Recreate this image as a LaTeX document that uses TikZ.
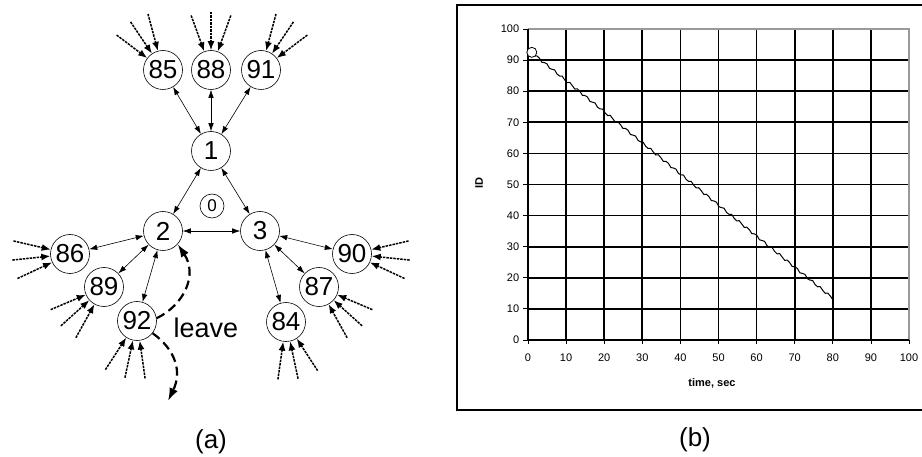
\documentclass[tikz,border=0pt]{standalone}
\usepackage{fontspec}
\setmainfont{Liberation Sans}
\usetikzlibrary{arrows.meta}
\begin{document}
\begin{tikzpicture}[x=1pt,y=1pt,
  peer/.style={circle,draw,line width=0.6pt,minimum size=39pt,inner sep=0pt,font=\fontsize{26}{26}\selectfont},
  smallpeer/.style={circle,draw,line width=0.6pt,minimum size=24pt,inner sep=0pt,font=\fontsize{17}{17}\selectfont},
  biarrow/.style={line width=0.6pt,{Latex[length=8pt,width=5.5pt]}-{Latex[length=8pt,width=5.5pt]}},
  inarrow/.style={line width=1.5pt,dash pattern=on 2.5pt off 1pt,-{Latex[length=9pt,width=7pt]}},
  leavearrow/.style={line width=2.2pt,dash pattern=on 9pt off 5pt,-{Latex[length=13pt,width=9pt]}},
  gridblack/.style={line width=1.7pt,black},
  gridgray/.style={line width=1.7pt,gray!80},
  ticklab/.style={font=\fontsize{11}{11}\selectfont},
  caption/.style={font=\fontsize{26}{26}\selectfont}]
\useasboundingbox (0,0) rectangle (922,-457);

% ---------- (a) overlay ----------
\node[peer] (n85) at (163,-70) {85};
\node[peer] (n88) at (211,-70) {88};
\node[peer] (n91) at (261,-70) {91};
\node[peer] (n1)  at (211,-151) {1};
\node[smallpeer] (n0) at (212,-206) {0};
\node[peer] (n2)  at (163,-231) {2};
\node[peer] (n3)  at (260,-231) {3};
\node[peer] (n86) at (70,-254) {86};
\node[peer] (n89) at (104,-287) {89};
\node[peer] (n92) at (137,-321) {92};
\node[peer] (n90) at (352,-254) {90};
\node[peer] (n87) at (319,-287) {87};
\node[peer] (n84) at (286,-322) {84};

\foreach \a/\b in {n1/n85,n1/n88,n1/n91,n1/n2,n1/n3,n2/n3,n2/n86,n2/n89,n2/n92,n3/n90,n3/n87,n3/n84}
  \draw[biarrow] (\a) -- (\b);

\foreach \n/\angs in {n85/{105,124,143},n88/{70,90,110},n91/{37,56,75},
                      n86/{167,186,205},n89/{203,222,241},n92/{237,258,278},
                      n90/{13,-6,-25},n87/{-23,-42,-61},n84/{-57,-78,-98}}
  \foreach \t in \angs
    \draw[inarrow] ([shift={(\t:58)}]\n.center) -- (\n.\t);

\coordinate (leaveend) at (168,-401);
\draw[leavearrow] (n92.8) .. controls (184,-305) and (198,-275) .. (n2.-42);
\draw[leavearrow] (n92.-38) .. controls (176,-350) and (182,-372) .. (leaveend);
\node[font=\fontsize{27}{27}\selectfont] (leave) at (206,-328) {leave};

\node[caption] (capa) at (211,-442) {(a)};

% ---------- (b) chart ----------
\draw[line width=1.5pt] (457,-5) rectangle (940,-410);
\begin{scope}[shift={(528,-340)},x=3.81pt,y=3.11pt]
  \foreach \v in {10,20,...,90} {
    \draw[gridblack] (0,\v) -- (100,\v);
    \draw[gridblack] (\v,0) -- (\v,100);
  }
  \draw[gridgray] (0,100) -- (100,100) -- (100,0);
  \draw[gridblack] (0,100) -- (0,0) -- (100,0);
  \foreach \v in {0,10,...,100} {
    \draw[line width=0.8pt] (-1.2,\v) -- (0,\v);
    \draw[line width=0.8pt] (\v,-1.3) -- (\v,0);
    \node[ticklab,anchor=east] (yl\v) at (-1.4,\v) {\v};
    \node[ticklab] (xl\v) at (\v,-5.6) {\v};
  }
  \draw[line width=1pt] plot[domain=1:80,samples=120] (\x,{93.4-\x+0.45*sin(\x*170)});
  \node[circle,draw,fill=white,line width=0.8pt,minimum size=10pt,inner sep=0pt] (mark) at (1,92.5) {};
\end{scope}
\node[font=\bfseries\fontsize{11}{11}\selectfont,rotate=90] (ylab) at (479,-183) {ID};
\node[font=\bfseries\fontsize{11}{11}\selectfont] (xlab) at (712,-383) {time, sec};

\node[caption] (capb) at (695,-440) {(b)};
\end{tikzpicture}
\end{document}
